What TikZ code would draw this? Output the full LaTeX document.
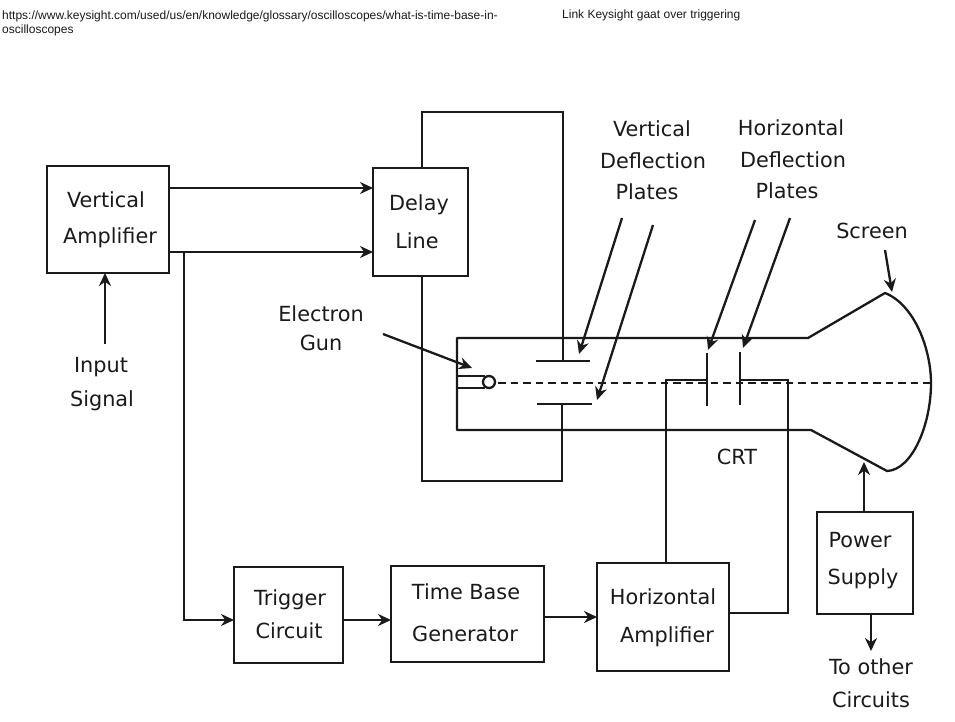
\documentclass[tikz,border=0pt]{standalone}
\usepackage{fontspec}
\setmainfont{DejaVu Sans}
\newfontfamily\headfont{Liberation Sans}
\usetikzlibrary{arrows.meta}
\definecolor{ink}{HTML}{1A1A1A}
\tikzset{
  x=1pt,y=-1pt,
  block/.style={draw=ink,line width=2.3pt,minimum width=#1,inner sep=0pt,outer sep=0pt},
  wire/.style={draw=ink,line width=2.3pt},
  arrowed/.style={wire,-{Stealth[length=13pt,width=12pt]}},
  lab/.style={text=ink,font=\fontsize{20.8}{32}\selectfont,align=center,inner sep=0pt},
  head/.style={text=ink,font=\headfont\fontsize{12}{14}\selectfont,align=left,anchor=north west,inner sep=0pt},
  beam/.style={draw=ink,line width=2.7pt,dash pattern=on 7.5pt off 5pt}
}
\begin{document}
\begin{tikzpicture}
\useasboundingbox[fill=white] (0,0) rectangle (955,722);
% blocks
\node[block=122pt,minimum height=107pt] (va) at (108,219.5) {};
\node[block=95pt,minimum height=108pt] (dl) at (420.5,222) {};
\node[block=109pt,minimum height=96pt] (tc) at (288.5,615) {};
\node[block=153pt,minimum height=96pt] (tb) at (467.5,614) {};
\node[block=132pt,minimum height=108pt] (ha) at (663,617) {};
\node[block=96pt,minimum height=102pt] (ps) at (865,563) {};
% block labels
\node[lab] (vat) at (106,200) {Vertical};
\node[lab] (vab) at (110,238) {Amplifier};
\node[lab] (dlt) at (419,205) {Delay};
\node[lab] (dlb) at (417,241) {Line};
\node[lab] (tct) at (290,600) {Trigger};
\node[lab] (tcb) at (289,631) {Circuit};
\node[lab] (tbt) at (466,592) {Time Base};
\node[lab] (tbb) at (465,634) {Generator};
\node[lab] (hat) at (663,597) {Horizontal};
\node[lab] (hab) at (667,637) {Amplifier};
\node[lab] (pst) at (860,540) {Power};
\node[lab] (psb) at (863,579) {Supply};
% free labels
\node[lab] (in1) at (101,367) {Input};
\node[lab] (in2) at (102,401) {Signal};
\node[lab] (eg1) at (321,314) {Electron};
\node[lab] (eg2) at (321,343) {Gun};
\node[lab] (vd1) at (652,129) {Vertical};
\node[lab] (vd2) at (653,161) {Deflection};
\node[lab] (vd3) at (647,192) {Plates};
\node[lab] (hd1) at (791,128) {Horizontal};
\node[lab] (hd2) at (793,160) {Deflection};
\node[lab] (hd3) at (787,191) {Plates};
\node[lab] (scr) at (872,231) {Screen};
\node[lab] (crt) at (737,457) {CRT};
\node[lab] (oc1) at (871,667) {To other};
\node[lab] (oc2) at (871,700) {Circuits};
\node[head] (url) at (2,11) {https://www.keysight.com/used/us/en/knowledge/glossary/oscilloscopes/what-is-time-base-in-\\oscilloscopes};
\node[head] (lnk) at (562,10) {Link Keysight gaat over triggering};
% anchor coordinates
\coordinate (vp1a) at (536,361); \coordinate (vp1b) at (590,361);
\coordinate (vp2a) at (537,404); \coordinate (vp2b) at (592,404);
\coordinate (vp1m) at (563,361); \coordinate (vp2m) at (562,404);
\coordinate (hp1a) at (707,353); \coordinate (hp1b) at (707,406);
\coordinate (hp2a) at (740,352); \coordinate (hp2b) at (740,405);
\coordinate (hp1m) at (707,380); \coordinate (hp2m) at (740,380);
\coordinate (crtA) at (457,338); \coordinate (crtB) at (808,338);
\coordinate (crtC) at (885,293); \coordinate (crtD) at (887,471);
\coordinate (crtE) at (811,430); \coordinate (crtF) at (457,430);
\coordinate (gunT) at (485,376); \coordinate (gunB) at (485,388);
\coordinate (gunTL) at (457,376); \coordinate (gunBL) at (457,388);
\coordinate (beamA) at (498,383); \coordinate (beamB) at (932,383);
% CRT
\draw[wire,line join=round] (crtF) -- (crtA) -- (crtB) -- (crtC)
  .. controls (915,305) and (931,350) .. (931,383)
  .. controls (931,425) and (912,470) .. (crtD) -- (crtE) -- cycle;
\draw[wire] (gunTL) -- (gunT);
\draw[wire] (gunBL) -- (gunB);
\node[draw=ink,line width=2.3pt,circle,minimum size=12pt,inner sep=0pt,fill=white] (gun) at (489,382) {};
\draw[beam] (beamA) -- (beamB);
% plates
\draw[wire] (vp1a) -- (vp1b);
\draw[wire] (vp2a) -- (vp2b);
\draw[wire] (hp1a) -- (hp1b);
\draw[wire] (hp2a) -- (hp2b);
% wiring
\coordinate (d1) at (422,112); \coordinate (d2) at (563,112);
\coordinate (d3) at (422,481); \coordinate (d4) at (562,481);
\draw[wire,line join=miter] (dl.north -| d1) -- (d1) -- (d2) -- (vp1m);
\draw[wire,line join=miter] (dl.south -| d3) -- (d3) -- (d4) -- (vp2m);
\coordinate (h1) at (666,380); \coordinate (h2) at (788,380); \coordinate (h3) at (788,613);
\draw[wire] (ha.north -| h1) -- (h1) -- (hp1m);
\draw[wire] (ha.east |- h3) -- (h3) -- (h2) -- (hp2m);
% signal arrows
\coordinate (y1) at (0,188); \coordinate (y2) at (0,252);
\draw[arrowed] (va.east |- y1) -- (dl.west |- y1);
\draw[arrowed] (va.east |- y2) -- (dl.west |- y2);
\coordinate (br) at (184,252); \coordinate (br2) at (184,620);
\draw[arrowed] (br) -- (br2) -- (tc.west |- br2);
\draw[arrowed] (tc.east |- br2) -- (tb.west |- br2);
\coordinate (y3) at (0,617);
\draw[arrowed] (tb.east |- y3) -- (ha.west |- y3);
\coordinate (inS) at (105,344);
\draw[arrowed] (inS) -- (va.south -| inS);
\coordinate (x1) at (864,0); \coordinate (pT) at (864,462);
\draw[arrowed] (ps.north -| x1) -- (pT);
\coordinate (x2) at (871,0); \coordinate (pD) at (871,651);
\draw[arrowed] (ps.south -| x2) -- (pD);
% pointer arrows
\coordinate (a1s) at (622,218); \coordinate (a1e) at (579,354);
\coordinate (a2s) at (653,225); \coordinate (a2e) at (597,400);
\coordinate (a3s) at (755,220); \coordinate (a3e) at (708,350);
\coordinate (a4s) at (790,218); \coordinate (a4e) at (743,348);
\coordinate (a5s) at (885,250); \coordinate (a5e) at (892,292);
\coordinate (a6s) at (383,334); \coordinate (a6e) at (472,368);
\draw[arrowed] (a1s) -- (a1e);
\draw[arrowed] (a2s) -- (a2e);
\draw[arrowed] (a3s) -- (a3e);
\draw[arrowed] (a4s) -- (a4e);
\draw[arrowed] (a5s) -- (a5e);
\draw[arrowed] (a6s) -- (a6e);
\end{tikzpicture}
\end{document}
